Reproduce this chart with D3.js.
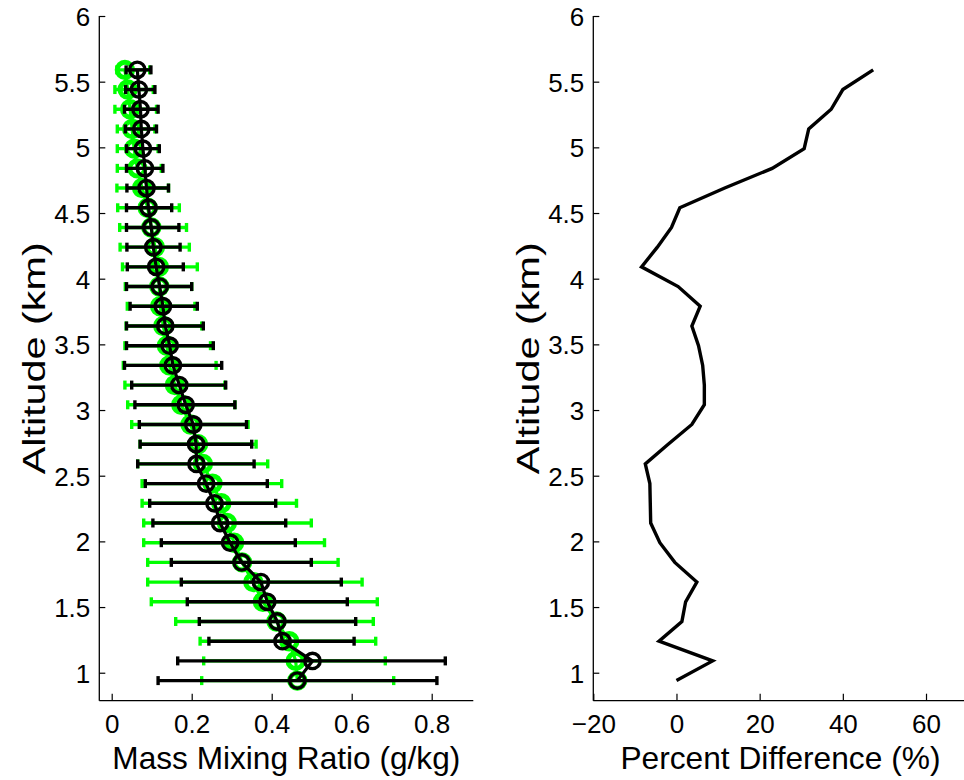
<!DOCTYPE html>
<html>
<head>
<meta charset="utf-8">
<script src="https://cdn.jsdelivr.net/npm/d3@7"></script>
<style>
  html, body { margin: 0; padding: 0; background: #fff; }
  svg { display: block; }
  text { font-family: "Liberation Sans", Arial, Helvetica, sans-serif; fill: #000; }
</style>
</head>
<body>
<svg id="chart" width="964" height="780"></svg>
<script>
// ---------------- data (bottom to top) ----------------
const altitude = [0.94, 1.09, 1.24, 1.39, 1.54, 1.69, 1.84, 1.99, 2.14, 2.29, 2.44, 2.59,
  2.74, 2.89, 3.04, 3.19, 3.34, 3.49, 3.64, 3.79, 3.94, 4.09, 4.24, 4.39, 4.54, 4.69,
  4.84, 4.99, 5.14, 5.29, 5.44, 5.59];

// black series: mean, lower and upper error bar ends (g/kg)
const blackMean = [0.464, 0.502, 0.427, 0.414, 0.389, 0.373, 0.325, 0.296, 0.271, 0.257, 0.236, 0.212,
  0.211, 0.204, 0.185, 0.169, 0.153, 0.145, 0.134, 0.128, 0.120, 0.111, 0.104, 0.099, 0.092, 0.087,
  0.083, 0.078, 0.074, 0.072, 0.068, 0.064];
const blackLow = [0.116, 0.165, 0.243, 0.219, 0.189, 0.174, 0.149, 0.124, 0.103, 0.095, 0.084, 0.065,
  0.071, 0.069, 0.058, 0.050, 0.032, 0.037, 0.037, 0.046, 0.037, 0.039, 0.038, 0.037, 0.037, 0.038,
  0.037, 0.037, 0.034, 0.032, 0.035, 0.036];
const blackHigh = [0.813, 0.834, 0.606, 0.610, 0.589, 0.574, 0.499, 0.459, 0.435, 0.410, 0.389, 0.356,
  0.350, 0.337, 0.308, 0.285, 0.275, 0.254, 0.229, 0.214, 0.200, 0.179, 0.171, 0.168, 0.150, 0.142,
  0.128, 0.119, 0.112, 0.116, 0.108, 0.098];

// green series: mean, lower and upper error bar ends (g/kg)
const greenMean = [0.464, 0.460, 0.444, 0.412, 0.378, 0.354, 0.326, 0.306, 0.288, 0.274, 0.252, 0.228,
  0.216, 0.197, 0.174, 0.158, 0.144, 0.138, 0.129, 0.121, 0.119, 0.118, 0.108, 0.099, 0.090, 0.076,
  0.064, 0.056, 0.051, 0.046, 0.040, 0.033];
const greenLow = [0.225, 0.230, 0.221, 0.160, 0.099, 0.090, 0.090, 0.080, 0.080, 0.076, 0.076, 0.065,
  0.071, 0.050, 0.040, 0.033, 0.029, 0.033, 0.036, 0.039, 0.034, 0.027, 0.021, 0.020, 0.015, 0.013,
  0.014, 0.014, 0.014, 0.008, 0.008, 0.013];
const greenHigh = [0.705, 0.684, 0.660, 0.654, 0.664, 0.626, 0.566, 0.532, 0.499, 0.462, 0.425, 0.390,
  0.361, 0.341, 0.308, 0.283, 0.261, 0.247, 0.225, 0.208, 0.200, 0.214, 0.194, 0.187, 0.169, 0.142,
  0.124, 0.116, 0.108, 0.112, 0.104, 0.095];

// percent difference (%)
const percentDiff = [0.0, 8.7, -4.2, 1.3, 2.2, 4.9, -0.4, -4.0, -6.2, -6.3, -6.4, -7.5,
  -2.0, 3.7, 6.7, 6.7, 6.3, 5.3, 3.7, 5.7, 0.4, -8.4, -4.6, -1.2, 0.8, 11.6,
  23.0, 30.7, 31.8, 37.2, 40.0, 47.3];

// tick labels
const altTicks = [1, 1.5, 2, 2.5, 3, 3.5, 4, 4.5, 5, 5.5, 6];
const mixTicks = [0, 0.2, 0.4, 0.6, 0.8];
const pctTicks = [-20, 0, 20, 40, 60];

const leftXLabel = "Mass Mixing Ratio (g/kg)";
const rightXLabel = "Percent Difference (%)";
const yLabel = "Altitude (km)";

// ---------------- layout ----------------
const svg = d3.select("#chart");
const GREEN = "#00ff00";
const TICK_FONT = 26, LABEL_FONT = 31.5;

const yScale = d3.scaleLinear().domain([0.787, 6]).range([700.7, 16]);
const xLeft = d3.scaleLinear().domain([-0.031, 0.904]).range([99.3, 473.3]);
const xRight = d3.scaleLinear().domain([-20, 70]).range([593.3, 967.6]);

function drawAxes(xScale, xTicks, xFmt, xTitle, xTitleLen, yTitleX) {
  const x0 = xScale.range()[0];
  const x1 = xScale.range()[1];
  const yb = yScale.range()[0];
  const g = svg.append("g");

  // x axis (ticks inward)
  const xAxis = d3.axisBottom(xScale).tickValues(xTicks).tickFormat(xFmt).tickSizeInner(-7).tickSizeOuter(0).tickPadding(0);
  const gx = g.append("g").attr("transform", `translate(0,${yb})`).call(xAxis);
  gx.select(".domain").remove();
  gx.selectAll(".tick line").attr("stroke", "#000").attr("stroke-width", 1.2);
  gx.selectAll(".tick text").attr("y", 32.5).attr("dy", null)
    .attr("font-size", TICK_FONT).style("font-family", "'Liberation Sans', Arial, sans-serif").attr("fill", "#000");

  // y axis (ticks inward)
  const yAxis = d3.axisLeft(yScale).tickValues(altTicks).tickFormat(d3.format("~g")).tickSizeInner(-6).tickSizeOuter(0).tickPadding(0);
  const gy = g.append("g").attr("transform", `translate(${x0},0)`).call(yAxis);
  gy.select(".domain").remove();
  gy.selectAll(".tick line").attr("stroke", "#000").attr("stroke-width", 1.2);
  gy.selectAll(".tick text").attr("x", -9).attr("dy", "0.36em")
    .attr("font-size", TICK_FONT).style("font-family", "'Liberation Sans', Arial, sans-serif").attr("fill", "#000");

  // axis lines
  g.append("line").attr("x1", x0).attr("x2", x1).attr("y1", yb).attr("y2", yb)
    .attr("stroke", "#000").attr("stroke-width", 1.3);
  g.append("line").attr("x1", x0).attr("x2", x0).attr("y1", yb).attr("y2", yScale.range()[1])
    .attr("stroke", "#000").attr("stroke-width", 1.3);

  // titles
  g.append("text").attr("x", (x0 + x1) / 2).attr("y", 769).attr("text-anchor", "middle")
    .attr("font-size", LABEL_FONT).attr("textLength", xTitleLen).attr("lengthAdjust", "spacingAndGlyphs")
    .text(xTitle);
  g.append("text").attr("transform", `translate(${yTitleX},${(yb + yScale.range()[1]) / 2}) rotate(-90)`)
    .attr("text-anchor", "middle").attr("font-size", 31)
    .attr("textLength", 232).attr("lengthAdjust", "spacingAndGlyphs").text(yLabel);
}

drawAxes(xLeft, mixTicks, d3.format("~g"), leftXLabel, 348, 45);
drawAxes(xRight, pctTicks, d3.format("d"), rightXLabel, 320, 539);

// ---------------- left panel: error bars with markers ----------------
const CAP = 4.5;
function drawSeries(mean, low, high, color, circleWidth, barWidth) {
  const g = svg.append("g");
  const idx = d3.range(altitude.length);
  // error bars
  g.selectAll("line.bar").data(idx).join("line")
    .attr("x1", i => xLeft(low[i])).attr("x2", i => xLeft(high[i]))
    .attr("y1", i => yScale(altitude[i])).attr("y2", i => yScale(altitude[i]))
    .attr("stroke", color).attr("stroke-width", barWidth);
  g.selectAll("line.capl").data(idx).join("line")
    .attr("x1", i => xLeft(low[i])).attr("x2", i => xLeft(low[i]))
    .attr("y1", i => yScale(altitude[i]) - CAP).attr("y2", i => yScale(altitude[i]) + CAP)
    .attr("stroke", color).attr("stroke-width", 3.4);
  g.selectAll("line.caph").data(idx).join("line")
    .attr("x1", i => xLeft(high[i])).attr("x2", i => xLeft(high[i]))
    .attr("y1", i => yScale(altitude[i]) - CAP).attr("y2", i => yScale(altitude[i]) + CAP)
    .attr("stroke", color).attr("stroke-width", 3.4);
  // connecting line
  const line = d3.line().x(i => xLeft(mean[i])).y(i => yScale(altitude[i]));
  g.append("path").datum(idx).attr("d", line).attr("fill", "none")
    .attr("stroke", color).attr("stroke-width", 3.2).attr("stroke-linejoin", "round");
  // markers
  g.selectAll("circle").data(idx).join("circle")
    .attr("cx", i => xLeft(mean[i])).attr("cy", i => yScale(altitude[i])).attr("r", 7.7)
    .attr("fill", "none").attr("stroke", color).attr("stroke-width", circleWidth);
}
drawSeries(greenMean, greenLow, greenHigh, GREEN, 5, 3.4);
drawSeries(blackMean, blackLow, blackHigh, "#000", 3.4, 3.4);

// ---------------- right panel: percent difference ----------------
const pLine = d3.line().x(i => xRight(percentDiff[i])).y(i => yScale(altitude[i]));
svg.append("path").datum(d3.range(altitude.length)).attr("d", pLine)
  .attr("fill", "none").attr("stroke", "#000").attr("stroke-width", 3.4).attr("stroke-linejoin", "miter");
</script>
</body>
</html>
